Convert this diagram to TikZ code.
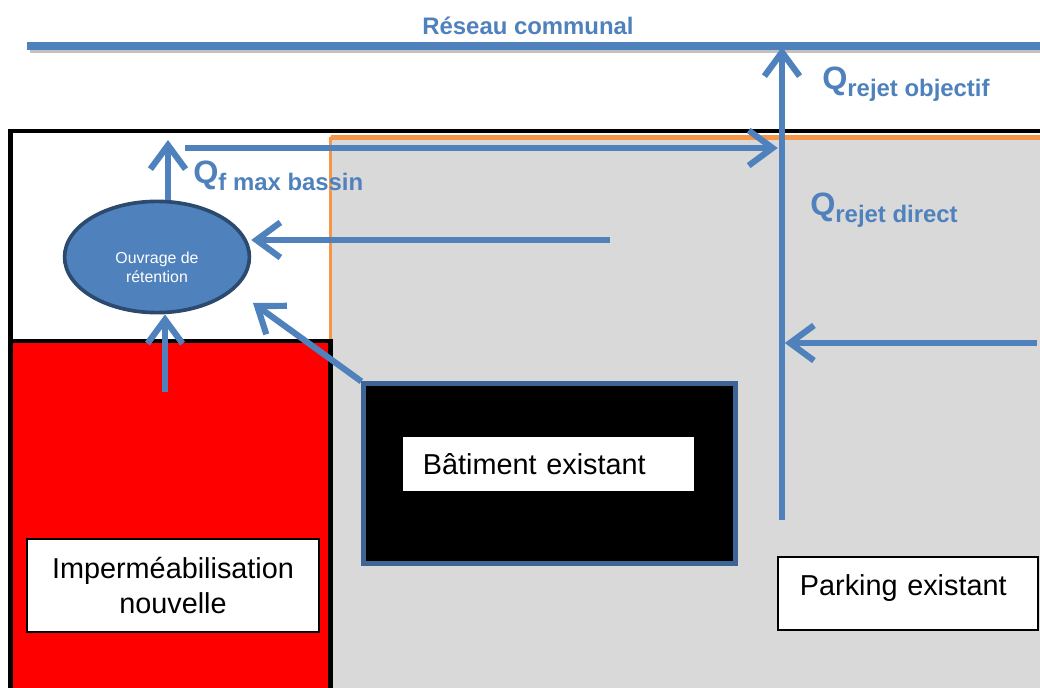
\documentclass[tikz,border=0pt]{standalone}
\usepackage{fontspec}
\setmainfont{Liberation Sans}
\usetikzlibrary{arrows.meta,shapes.geometric}

\definecolor{bleu}{HTML}{4F81BD}
\definecolor{bleufonce}{HTML}{2C4A6E}
\definecolor{contour}{HTML}{3E6496}
\definecolor{gris}{HTML}{D9D9D9}
\definecolor{orangebord}{HTML}{F79646}
\definecolor{ombre}{HTML}{A6A6A6}

\tikzset{
    fleche/.style={draw=bleu, line width=4.4pt, -{Straight Barb[length=17pt,width=25pt]}},
    boite/.style={draw=black, fill=white, line width=0.8pt, inner sep=0pt,
        font=\fontsize{20.5}{25}\selectfont},
    debit/.style={text=bleu, anchor=base west, inner sep=0pt,
        font=\bfseries\fontsize{23}{23}\selectfont},
}
\newcommand{\indice}[1]{\raisebox{-4.5pt}{\fontsize{17}{17}\selectfont #1}}

\begin{document}
\begin{tikzpicture}[x=0.025cm, y=-0.025cm]
    \useasboundingbox (0,0) rectangle (1040,688);
    \fill[white] (0,0) rectangle (1040,688);

    \fill[gris] (330,136) rectangle (1040,688);
    \fill[red] (12,341) rectangle (330,688);
    \draw[orangebord, line width=2.4pt] (330.5,341) -- (330.5,137);
    \draw[orangebord, line width=3.4pt] (330.5,137.5) -- (1040,137.5);
    \draw[line width=3.5pt] (10.5,688) -- (10.5,131) -- (1040,131);
    \draw[line width=3.5pt] (10.5,341) -- (330.5,341) -- (330.5,688);

    \draw[ombre!70, line width=2.5pt] (30,51.5) -- (1040,51.5);
    \draw[bleu, line width=5.7pt] (27,46) -- (1040,46);
    \node[text=bleu, font=\bfseries\fontsize{17}{17}\selectfont] (reseau) at (528,26) {Réseau communal};

    \node[draw=contour, fill=black, line width=3pt, minimum width=9.3cm, minimum height=4.5cm,
        inner sep=0pt] (batiment) at (549.5,473.5) {};
    \node[boite, draw=none, minimum width=7.275cm, minimum height=1.35cm, text width=6.275cm,
        inner xsep=0.5cm, align=left] (batlabel) at (548.5,464) {Bâtiment existant};
    \node[boite, minimum width=7.3cm, minimum height=2.325cm, align=center] (imperm)
        at (173,585.5) {Imperméabilisation\\nouvelle};
    \node[boite, minimum width=6.5cm, minimum height=1.825cm, text width=5.4cm, inner xsep=0.55cm,
        align=left, text height=15pt, text depth=12pt] (parking) at (908,593.5) {Parking existant};

    \node[ellipse, fill=bleu, draw=bleufonce, line width=2.6pt, minimum width=4.62cm,
        minimum height=2.78cm, inner sep=0pt] (ouvrage) at (157,257) {};
    \node[text=white, align=center, font=\fontsize{11.3}{13.5}\selectfont] (ouvragetexte)
        at (157,267) {Ouvrage de\\rétention};

    \coordinate (impermsrc) at (165,392);
    \coordinate (batpointe) at (253,303);
    \coordinate (batsrc) at (610,240);
    \coordinate (qfpointe) at (168,140);
    \coordinate (bassinsortie) at (185,148);
    \coordinate (collecteurbas) at (782,520);
    \coordinate (exutoire) at (782,47);
    \coordinate (parkingsrc) at (1037,343);

    \draw[fleche] (impermsrc) -- (impermsrc |- ouvrage.south);
    \draw[fleche] (batiment.north west) -- (batpointe);
    \draw[fleche] (batsrc) -- (batsrc -| ouvrage.east);
    \draw[fleche] (qfpointe |- ouvrage.north) -- (qfpointe);
    \draw[fleche] (collecteurbas) -- (exutoire);
    \draw[fleche, shorten >=3pt] (bassinsortie) -- (bassinsortie -| collecteurbas);
    \draw[fleche, shorten >=2pt] (parkingsrc) -- (parkingsrc -| collecteurbas);

    \node[debit] (qbassin) at (193,184) {Q\indice{f max bassin}};
    \node[debit] (qobjectif) at (822,90) {Q\indice{rejet objectif}};
    \node[debit] (qdirect) at (810,216) {Q\indice{rejet direct}};
\end{tikzpicture}
\end{document}
